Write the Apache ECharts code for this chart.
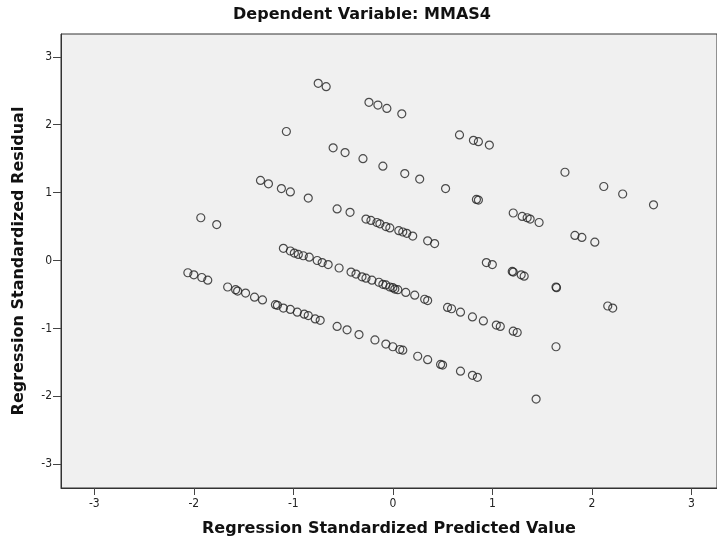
<!DOCTYPE html>
<html>
<head>
<meta charset="utf-8">
<script src="https://cdn.jsdelivr.net/npm/echarts@6/dist/echarts.min.js"></script>
<style>
  html, body { margin: 0; padding: 0; background: #fff; }
  #chart { width: 717px; height: 543px; }
</style>
</head>
<body>
<div id="chart"></div>
<script>
// Standardized predicted values (x) and standardized residuals (y)
const predicted = [
  -0.75, -0.67, -0.24, -0.15, -0.06, 0.09, 0.67, 0.81, 0.86, 0.97,
  -1.07, -0.60, -0.48, -0.30, -0.10, 0.12, 0.27, 0.53, 0.84, 0.86,
  1.73, 2.12, 2.31, 2.62,
  -1.33, -1.25, -1.12, -1.03, -0.85, -0.56, -0.43, -0.27, -0.22, -0.16,
  -0.13, -0.07, -0.03, 0.06, 0.10, 0.14, 0.20, 0.35, 0.42,
  1.21, 1.30, 1.35, 1.38, 1.47, 1.83, 1.90, 2.03,
  -1.93, -1.77,
  0.94, 1.00, 1.20, 1.21, 1.29, 1.32, 1.64, 1.645, 2.16, 2.21,
  -1.10, -1.03, -0.99, -0.95, -0.90, -0.84, -0.76, -0.71, -0.65, -0.54,
  -0.42, -0.37, -0.31, -0.27, -0.21, -0.14, -0.10, -0.07, -0.03, 0.00,
  0.02, 0.05, 0.13, 0.22, 0.32, 0.35, 0.55, 0.59, 0.68, 0.80,
  0.91, 1.04, 1.08, 1.21, 1.25, 1.64,
  -2.06, -2.00, -1.92, -1.86, -1.66, -1.58, -1.56, -1.48, -1.39, -1.31,
  -1.18, -1.16, -1.10, -1.03, -0.96, -0.89, -0.85, -0.78, -0.73, -0.56,
  -0.46, -0.34, -0.18, -0.07, 0.00, 0.07, 0.10, 0.25, 0.35, 0.48,
  0.50, 0.68, 0.80, 0.85, 1.44
];
const residual = [
  2.61, 2.56, 2.33, 2.29, 2.24, 2.16, 1.85, 1.77, 1.75, 1.70,
  1.90, 1.66, 1.59, 1.50, 1.39, 1.28, 1.20, 1.06, 0.90, 0.89,
  1.30, 1.09, 0.98, 0.82,
  1.18, 1.13, 1.06, 1.01, 0.92, 0.76, 0.71, 0.61, 0.59, 0.56,
  0.54, 0.50, 0.48, 0.44, 0.42, 0.40, 0.36, 0.29, 0.25,
  0.70, 0.65, 0.63, 0.61, 0.56, 0.37, 0.34, 0.27,
  0.63, 0.53,
  -0.03, -0.06, -0.16, -0.17, -0.21, -0.23, -0.39, -0.40, -0.67, -0.70,
  0.18, 0.14, 0.11, 0.09, 0.07, 0.05, 0.00, -0.03, -0.06, -0.11,
  -0.17, -0.20, -0.24, -0.26, -0.29, -0.32, -0.35, -0.36, -0.39, -0.40,
  -0.42, -0.43, -0.47, -0.51, -0.57, -0.59, -0.69, -0.71, -0.76, -0.83,
  -0.89, -0.95, -0.97, -1.04, -1.06, -1.27,
  -0.18, -0.21, -0.25, -0.29, -0.39, -0.43, -0.45, -0.48, -0.54, -0.58,
  -0.65, -0.66, -0.70, -0.72, -0.76, -0.79, -0.81, -0.86, -0.88, -0.97,
  -1.02, -1.09, -1.17, -1.23, -1.27, -1.31, -1.32, -1.41, -1.46, -1.53,
  -1.54, -1.63, -1.69, -1.72, -2.04
];
const xTicks = [-3, -2, -1, 0, 1, 2, 3];
const yTicks = [-3, -2, -1, 0, 1, 2, 3];

const titleText = 'Dependent Variable: MMAS4';
const xName = 'Regression Standardized Predicted Value';
const yName = 'Regression Standardized Residual';

const points = predicted.map((v, i) => [v, residual[i]]);

const labelFont = 'DejaVu Sans Condensed, Liberation Sans Narrow, sans-serif';
const boldFont = 'DejaVu Sans, Liberation Sans, sans-serif';

const chart = echarts.init(document.getElementById('chart'), null, { renderer: 'canvas' });
chart.setOption({
  animation: false,
  backgroundColor: '#ffffff',
  title: {
    text: titleText,
    left: 357,
    top: 2,
    textAlign: 'center',
    textStyle: { fontFamily: boldFont, fontWeight: 'bold', fontSize: 16, color: '#111' }
  },
  grid: {
    left: 61, top: 34, right: -2, bottom: 55,
    show: true,
    backgroundColor: '#f0f0f0',
    borderColor: '#333',
    borderWidth: 1
  },
  xAxis: {
    type: 'value',
    min: -3.335, max: 3.258,
    name: xName,
    nameLocation: 'middle',
    nameGap: 33,
    nameTextStyle: { fontFamily: boldFont, fontWeight: 'bold', fontSize: 16, color: '#111' },
    splitLine: { show: false },
    axisLine: { show: true, onZero: false, lineStyle: { color: '#333', width: 1 } },
    axisTick: { show: true, customValues: xTicks, length: 7, lineStyle: { color: '#444' } },
    axisLabel: { customValues: xTicks, margin: 10, fontFamily: labelFont, fontSize: 12, color: '#222' }
  },
  yAxis: {
    type: 'value',
    min: -3.35, max: 3.336,
    name: yName,
    nameLocation: 'middle',
    nameGap: 34,
    nameRotate: 90,
    nameTextStyle: { fontFamily: boldFont, fontWeight: 'bold', fontSize: 16, color: '#111' },
    splitLine: { show: false },
    axisLine: { show: true, onZero: false, lineStyle: { color: '#333', width: 1 } },
    axisTick: { show: true, customValues: yTicks, length: 8, lineStyle: { color: '#444' } },
    axisLabel: { customValues: yTicks, margin: 9, fontFamily: labelFont, fontSize: 12, color: '#222' }
  },
  series: [{
    type: 'scatter',
    data: points,
    symbol: 'circle',
    symbolSize: 8,
    itemStyle: { color: 'rgba(0,0,0,0)', borderColor: '#222', borderWidth: 1.2 },
    emphasis: { disabled: true }
  }]
});
</script>
</body>
</html>
